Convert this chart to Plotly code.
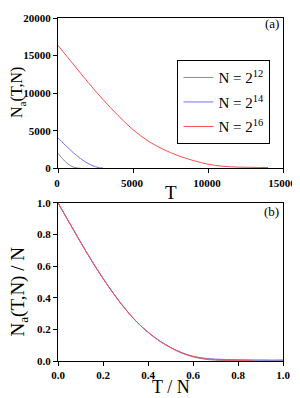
import plotly.graph_objects as go

# ---- panel (a): N_a(T,N) vs T ----
gray_T = [0, 150, 300, 450, 600, 750, 900, 1050, 1200, 1350, 1500]
gray_Na = [2000, 1640, 1290, 960, 680, 450, 285, 160, 75, 35, 20]

blue_T = [0, 250, 500, 750, 1000, 1250, 1500, 1750, 2000, 2250, 2500, 2750, 3000]
blue_Na = [4050, 3550, 3060, 2580, 2120, 1700, 1310, 960, 660, 410, 220, 90, 40]

red_T = [0, 1000, 2000, 3000, 4000, 5000, 6000, 7000, 8000, 9000, 10000, 11000, 12000, 13000, 14000]
red_Na = [16350, 13900, 11450, 9150, 7050, 5150, 3650, 2550, 1700, 1050, 560, 280, 170, 130, 110]

# ---- panel (b): N_a(T,N)/N vs T/N ----
gray_x = [0, 0.05, 0.1, 0.15, 0.2, 0.25, 0.3, 0.35, 0.4, 0.45, 0.5, 0.55, 0.6, 0.65, 0.7, 0.8, 0.9, 1.0]
gray_y = [1.0, 0.875, 0.752, 0.633, 0.522, 0.42, 0.327, 0.247, 0.182, 0.128, 0.085, 0.05, 0.026, 0.012, 0.005, 0.002, 0.002, 0.002]

blue_x = [0, 0.05, 0.1, 0.15, 0.2, 0.25, 0.3, 0.35, 0.4, 0.45, 0.5, 0.55, 0.6, 0.65, 0.7, 0.75, 0.8, 0.85, 0.9, 0.95, 1.0]
blue_y = [1.0, 0.875, 0.752, 0.633, 0.522, 0.42, 0.327, 0.247, 0.182, 0.128, 0.086, 0.053, 0.03, 0.018, 0.012, 0.009, 0.008, 0.007, 0.007, 0.006, 0.007]

red_x = [0, 0.05, 0.1, 0.15, 0.2, 0.25, 0.3, 0.35, 0.4, 0.45, 0.5, 0.55, 0.6, 0.65, 0.7, 0.75, 0.8, 0.86]
red_y = [1.0, 0.875, 0.752, 0.633, 0.522, 0.42, 0.327, 0.247, 0.182, 0.128, 0.085, 0.052, 0.029, 0.015, 0.009, 0.006, 0.005, 0.005]

labels = ["N = 2<sup>12</sup>", "N = 2<sup>14</sup>", "N = 2<sup>16</sup>"]
colors = ["#8c8c8c", "#7373ff", "#ff4d4d"]

top_ticks = [0, 5000, 10000, 15000]
top_yticks = [0, 5000, 10000, 15000, 20000]
unit_ticks = [0, 0.2, 0.4, 0.6, 0.8, 1.0]

SERIF = "Liberation Serif"

fig = go.Figure()
top = [(gray_T, gray_Na), (blue_T, blue_Na), (red_T, red_Na)]
bot = [(gray_x, gray_y), (blue_x, blue_y), (red_x, red_y)]
for i, ((x, y), lab, c) in enumerate(zip(top, labels, colors)):
    fig.add_trace(go.Scatter(x=x, y=y, mode="lines", name=lab, legendgroup=f"g{i}",
                             line=dict(color=c, width=1, shape="spline"), xaxis="x", yaxis="y"))
for i, ((x, y), lab, c) in enumerate(zip(bot, labels, colors)):
    fig.add_trace(go.Scatter(x=x, y=y, mode="lines", name=lab, legendgroup=f"g{i}",
                             line=dict(color=c, width=1, shape="spline"),
                             xaxis="x2", yaxis="y2", showlegend=False))

axis_common = dict(showline=True, linecolor="black", linewidth=1, mirror=True,
                   ticks="outside", ticklen=4, tickcolor="black", showgrid=False, zeroline=False,
                   tickfont=dict(family=SERIF, size=11, color="black"))

def bold(vals, fmt):
    return ["<b>" + fmt(v) + "</b>" for v in vals]

# The page shows the figure 8px in from the window's top-left corner,
# so the figure is sized to fill the rest of the 300x398 window.
fig.update_layout(
    width=292, height=390,
    margin=dict(l=50, r=16, t=4, b=37),
    plot_bgcolor="white", paper_bgcolor="white",
    showlegend=True,
    legend=dict(x=0.531, y=0.877, xanchor="left", yanchor="top", xref="paper", yref="paper",
                bordercolor="black", borderwidth=1, bgcolor="white", itemwidth=30,
                font=dict(family=SERIF, size=15, color="black"), tracegroupgap=2),
    xaxis=dict(domain=[0, 1], anchor="y", range=[0, 15000], tickvals=top_ticks,
               ticktext=bold(top_ticks, lambda v: str(v)), ticklabelshift=-1, **axis_common),
    yaxis=dict(domain=[0.5616, 1], anchor="x", range=[0, 20000], tickvals=top_yticks,
               ticktext=bold(top_yticks, lambda v: str(v)), **axis_common),
    xaxis2=dict(domain=[0, 1], anchor="y2", range=[0, 1], tickvals=unit_ticks,
                ticktext=bold(unit_ticks, lambda v: f"{v:.1f}"), **axis_common),
    yaxis2=dict(domain=[0, 0.4613], anchor="x2", range=[0, 1], tickvals=unit_ticks,
                ticktext=bold(unit_ticks, lambda v: f"{v:.1f}"), **axis_common),
    annotations=[
        dict(text="(a)", x=0.99, y=0.985, xref="paper", yref="paper", xanchor="right", yanchor="middle",
             showarrow=False, font=dict(family=SERIF, size=13, color="black")),
        dict(text="(b)", x=0.99, y=0.4355, xref="paper", yref="paper", xanchor="right", yanchor="middle",
             showarrow=False, font=dict(family=SERIF, size=13, color="black")),
        dict(text="T", x=0.5, y=0.49, xref="paper", yref="paper", xanchor="center", yanchor="middle",
             showarrow=False, font=dict(family=SERIF, size=19, color="black")),
        dict(text="T / N", x=0.5, y=-0.106, xref="paper", yref="paper", xanchor="center", yanchor="bottom",
             yshift=-2, showarrow=False, font=dict(family=SERIF, size=18, color="black")),
        dict(text="N<sub>a</sub>(T,N)", x=-0.177, y=0.782, xref="paper", yref="paper", textangle=-90,
             xanchor="center", yanchor="middle", showarrow=False,
             font=dict(family=SERIF, size=16, color="black")),
        dict(text="N<sub>a</sub>(T,N) / N", x=-0.1726, y=0.203, xref="paper", yref="paper", textangle=-90,
             xanchor="center", yanchor="middle", showarrow=False,
             font=dict(family=SERIF, size=19, color="black")),
    ],
)

fig.write_html("out.html")
